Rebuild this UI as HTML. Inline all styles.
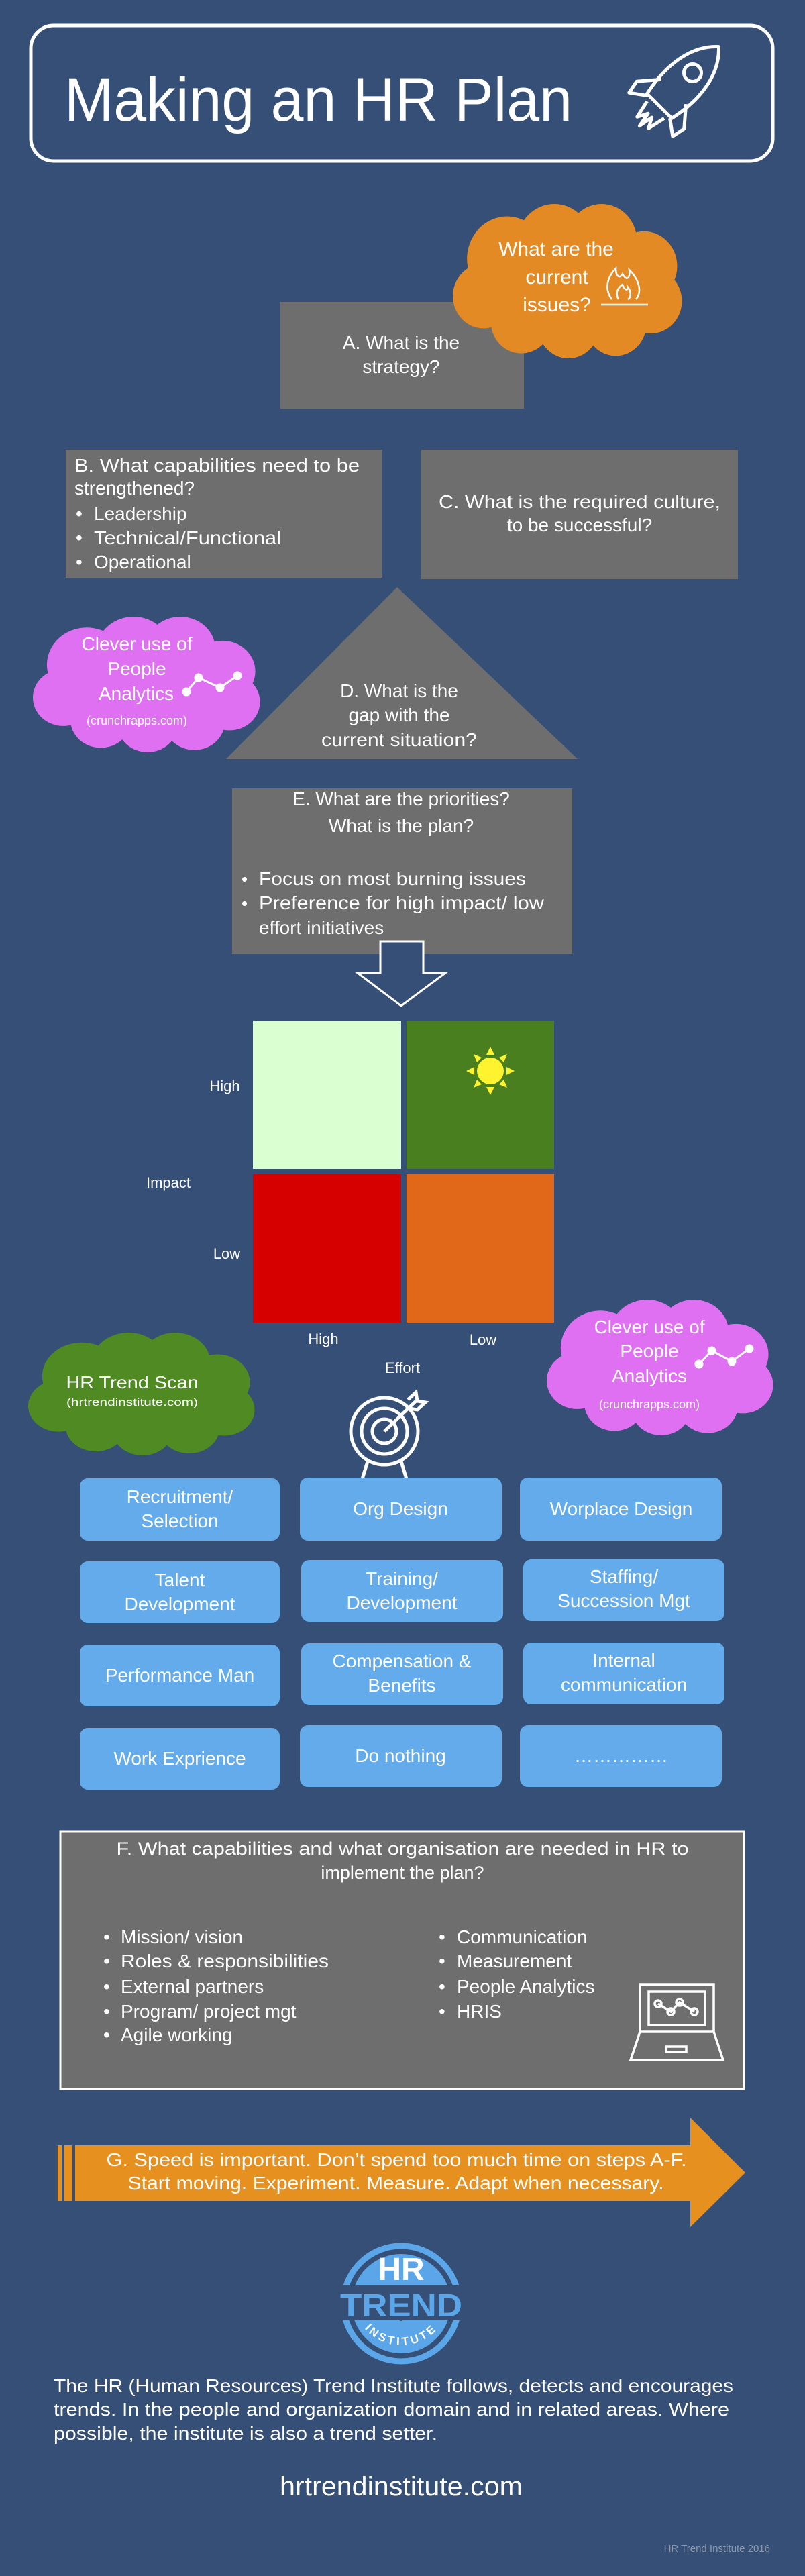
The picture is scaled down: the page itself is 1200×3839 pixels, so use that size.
<!DOCTYPE html>
<html><head><meta charset="utf-8"><style>
html,body{margin:0;padding:0;background:#354F76;}
svg{display:block;}
text{font-family:"Liberation Sans",sans-serif;fill:#fff;}
</style></head><body>
<svg width="1200" height="3839" viewBox="0 0 1200 3839" xmlns="http://www.w3.org/2000/svg">
<defs>
<symbol id="cloud" viewBox="0 0 100 62" preserveAspectRatio="none">
<g>
<circle cx="25" cy="22" r="17"/><circle cx="45" cy="16" r="16"/><circle cx="65" cy="15" r="15"/>
<circle cx="83" cy="25" r="14"/><circle cx="86" cy="39" r="13"/><circle cx="71" cy="48" r="13"/>
<circle cx="51" cy="49" r="13"/><circle cx="31" cy="47" r="13"/><circle cx="15" cy="37" r="13"/>
<ellipse cx="50" cy="32" rx="38" ry="20"/>
</g>
</symbol>
<path id="instArc" d="M 528 3440 A 72 72 0 0 0 668 3440"/>
</defs>
<rect width="1200" height="3839" fill="#354F76"/>

<!-- Title -->
<rect x="46" y="38" width="1106" height="202" rx="34" fill="none" stroke="#fff" stroke-width="5"/>
<text x="96" y="180" font-size="92" textLength="757" lengthAdjust="spacingAndGlyphs">Making an HR Plan</text>
<g transform="rotate(45 1012 129)" fill="none" stroke="#fff" stroke-width="5" stroke-linejoin="round">
<path d="M1012 45 C1045 75 1048 125 1038 170 L986 170 C976 125 979 75 1012 45 Z"/>
<circle cx="1012" cy="100" r="13"/>
<path d="M986 140 L962 168 L966 188 L988 172"/>
<path d="M1038 140 L1062 168 L1058 188 L1036 172"/>
<path d="M994 178 L1000 205 L1008 190 L1012 212 L1016 190 L1024 205 L1030 178"/>
</g>

<!-- Box A -->
<rect x="418" y="450" width="363" height="159" fill="#6E6E6E"/>
<!-- Orange cloud -->
<use href="#cloud" x="668" y="304" width="352" height="230" fill="#E38A24"/>
<text x="829" y="381" font-size="30" text-anchor="middle">What are the</text>
<text x="830" y="423" font-size="30" text-anchor="middle">current</text>
<text x="830" y="464" font-size="30" text-anchor="middle">issues?</text>
<g fill="none" stroke="#fff" stroke-width="2.5">
<path d="M912 446 C900 430 906 412 918 400 C918 412 924 416 928 408 C934 420 940 414 938 402 C952 416 958 434 948 446"/>
<path d="M922 446 C916 436 922 428 928 424 C930 432 936 434 936 428 C942 436 940 444 936 446"/>
<line x1="896" y1="454" x2="966" y2="454"/>
</g>
<text x="598" y="520" font-size="28" text-anchor="middle">A. What is the</text>
<text x="598" y="556" font-size="28" text-anchor="middle">strategy?</text>

<!-- Box B -->
<rect x="98" y="670" width="472" height="191" fill="#6E6E6E"/>
<text x="111" y="703" font-size="28" textLength="425" lengthAdjust="spacingAndGlyphs">B. What capabilities need to be</text>
<text x="111" y="737" font-size="28">strengthened?</text>
<text x="113" y="775" font-size="28">•</text><text x="140" y="775" font-size="28">Leadership</text>
<text x="113" y="811" font-size="28">•</text><text x="140" y="811" font-size="28" textLength="279" lengthAdjust="spacingAndGlyphs">Technical/Functional</text>
<text x="113" y="847" font-size="28">•</text><text x="140" y="847" font-size="28">Operational</text>

<!-- Box C -->
<rect x="628" y="670" width="472" height="193" fill="#6E6E6E"/>
<text x="864" y="757" font-size="28" text-anchor="middle" textLength="420" lengthAdjust="spacingAndGlyphs">C. What is the required culture,</text>
<text x="864" y="792" font-size="28" text-anchor="middle">to be successful?</text>

<!-- Triangle D -->
<polygon points="592,875 861,1131 337,1131" fill="#6E6E6E"/>
<text x="595" y="1039" font-size="28" text-anchor="middle">D. What is the</text>
<text x="595" y="1075" font-size="28" text-anchor="middle">gap with the</text>
<text x="595" y="1112" font-size="28" text-anchor="middle" textLength="232" lengthAdjust="spacingAndGlyphs">current situation?</text>

<!-- Pink cloud 1 -->
<use href="#cloud" x="42" y="919" width="349" height="202" fill="#E070F2"/>
<text x="204" y="969" font-size="28" text-anchor="middle">Clever use of</text>
<text x="204" y="1006" font-size="28" text-anchor="middle">People</text>
<text x="203" y="1043" font-size="28" text-anchor="middle">Analytics</text>
<text x="204" y="1080" font-size="18" text-anchor="middle">(crunchrapps.com)</text>
<g stroke="#fff" stroke-width="3" fill="#fff"><polyline points="278,1031 296,1010 328,1025 354,1007" fill="none"/>
<circle cx="278" cy="1031" r="5"/><circle cx="296" cy="1010" r="5"/><circle cx="328" cy="1025" r="5"/><circle cx="354" cy="1007" r="5"/></g>

<!-- Box E -->
<rect x="346" y="1175" width="507" height="246" fill="#6E6E6E"/>
<text x="598" y="1200" font-size="28" text-anchor="middle">E. What are the priorities?</text>
<text x="598" y="1240" font-size="28" text-anchor="middle">What is the plan?</text>
<text x="360" y="1319" font-size="26">•</text><text x="386" y="1319" font-size="28" textLength="398" lengthAdjust="spacingAndGlyphs">Focus on most burning issues</text>
<text x="360" y="1355" font-size="26">•</text><text x="386" y="1355" font-size="28" textLength="425" lengthAdjust="spacingAndGlyphs">Preference for high impact/ low</text>
<text x="386" y="1392" font-size="28">effort initiatives</text>

<!-- hollow arrow -->
<polygon points="567,1403 631,1403 631,1450 664,1450 598,1499 533,1450 567,1450" fill="#354F76" stroke="#fff" stroke-width="3"/>

<!-- matrix -->
<rect x="377" y="1521" width="221" height="221" fill="#DAFFD0"/>
<rect x="606" y="1521" width="220" height="221" fill="#4A7F20"/>
<rect x="377" y="1750" width="221" height="221" fill="#D60000"/>
<rect x="606" y="1750" width="220" height="221" fill="#E06818"/>
<g fill="#FFF22E">
<circle cx="731" cy="1596" r="20"/>
<polygon points="731,1560 725,1572 737,1572"/><polygon points="731,1632 725,1620 737,1620"/>
<polygon points="695,1596 707,1590 707,1602"/><polygon points="767,1596 755,1590 755,1602"/>
<polygon points="706,1571 718,1576 711,1583"/><polygon points="756,1571 744,1576 751,1583"/>
<polygon points="706,1621 718,1616 711,1609"/><polygon points="756,1621 744,1616 751,1609"/>
</g>
<text x="335" y="1626" font-size="22" text-anchor="middle">High</text>
<text x="251" y="1770" font-size="22" text-anchor="middle">Impact</text>
<text x="338" y="1876" font-size="22" text-anchor="middle">Low</text>
<text x="482" y="2003" font-size="22" text-anchor="middle">High</text>
<text x="720" y="2004" font-size="22" text-anchor="middle">Low</text>
<text x="600" y="2046" font-size="22" text-anchor="middle">Effort</text>

<!-- green cloud -->
<use href="#cloud" x="35" y="1986" width="348" height="183" fill="#4F8A22"/>
<text x="197" y="2069" font-size="26" text-anchor="middle" textLength="197" lengthAdjust="spacingAndGlyphs">HR Trend Scan</text>
<text x="197" y="2095" font-size="16" text-anchor="middle" textLength="196" lengthAdjust="spacingAndGlyphs">(hrtrendinstitute.com)</text>

<!-- pink cloud 2 -->
<use href="#cloud" x="808" y="1937" width="348" height="202" fill="#E070F2"/>
<text x="968" y="1987" font-size="28" text-anchor="middle">Clever use of</text>
<text x="968" y="2023" font-size="28" text-anchor="middle">People</text>
<text x="968" y="2060" font-size="28" text-anchor="middle">Analytics</text>
<text x="968" y="2099" font-size="18" text-anchor="middle">(crunchrapps.com)</text>
<g stroke="#fff" stroke-width="3" fill="#fff"><polyline points="1042,2033 1061,2013 1091,2029 1117,2010" fill="none"/>
<circle cx="1042" cy="2033" r="5"/><circle cx="1061" cy="2013" r="5"/><circle cx="1091" cy="2029" r="5"/><circle cx="1117" cy="2010" r="5"/></g>

<!-- target -->
<g fill="none" stroke="#fff" stroke-width="5">
<circle cx="573" cy="2133" r="50"/><circle cx="573" cy="2133" r="34"/><circle cx="573" cy="2133" r="18"/>
<line x1="573" y1="2133" x2="620" y2="2088"/>
<path d="M608 2086 L620 2075 L622 2088 L634 2090 L622 2101 L610 2099"/>
<line x1="548" y1="2178" x2="540" y2="2204"/><line x1="598" y1="2178" x2="606" y2="2204"/>
</g>

<!-- buttons -->
<g fill="#63ABEB">
<rect x="119" y="2203" width="298" height="93" rx="12"/><rect x="447" y="2202" width="301" height="94" rx="12"/><rect x="775" y="2202" width="301" height="94" rx="12"/>
<rect x="119" y="2327" width="298" height="92" rx="12"/><rect x="449" y="2325" width="301" height="92" rx="12"/><rect x="780" y="2324" width="300" height="92" rx="12"/>
<rect x="119" y="2451" width="298" height="92" rx="12"/><rect x="449" y="2449" width="301" height="92" rx="12"/><rect x="780" y="2448" width="300" height="92" rx="12"/>
<rect x="119" y="2575" width="298" height="92" rx="12"/><rect x="447" y="2571" width="301" height="92" rx="12"/><rect x="775" y="2571" width="301" height="92" rx="12"/>
</g>
<g font-size="28" text-anchor="middle">
<text x="268" y="2240">Recruitment/</text><text x="268" y="2276">Selection</text>
<text x="597" y="2258">Org Design</text>
<text x="926" y="2258">Worplace Design</text>
<text x="268" y="2364">Talent</text><text x="268" y="2400">Development</text>
<text x="599" y="2362">Training/</text><text x="599" y="2398">Development</text>
<text x="930" y="2359">Staffing/</text><text x="930" y="2395">Succession Mgt</text>
<text x="268" y="2506">Performance Man</text>
<text x="599" y="2485">Compensation &amp;</text><text x="599" y="2521">Benefits</text>
<text x="930" y="2484">Internal</text><text x="930" y="2520">communication</text>
<text x="268" y="2630">Work Exprience</text>
<text x="597" y="2626">Do nothing</text>
<text x="926" y="2626">……………</text>
</g>

<!-- Box F -->
<rect x="90" y="2729" width="1019" height="384" fill="#6E6E6E" stroke="#fff" stroke-width="3"/>
<text x="600" y="2764" font-size="27" text-anchor="middle" textLength="853" lengthAdjust="spacingAndGlyphs">F. What capabilities and what organisation are needed in HR to</text>
<text x="600" y="2800" font-size="27" text-anchor="middle">implement the plan?</text>
<g font-size="28">
<text x="154" y="2896">•</text><text x="180" y="2896">Mission/ vision</text>
<text x="154" y="2932">•</text><text x="180" y="2932" textLength="310" lengthAdjust="spacingAndGlyphs">Roles &amp; responsibilities</text>
<text x="154" y="2970">•</text><text x="180" y="2970">External partners</text>
<text x="154" y="3007">•</text><text x="180" y="3007">Program/ project mgt</text>
<text x="154" y="3042">•</text><text x="180" y="3042">Agile working</text>
<text x="654" y="2896">•</text><text x="681" y="2896">Communication</text>
<text x="654" y="2932">•</text><text x="681" y="2932">Measurement</text>
<text x="654" y="2970">•</text><text x="681" y="2970">People Analytics</text>
<text x="654" y="3007">•</text><text x="681" y="3007">HRIS</text>
</g>
<g fill="none" stroke="#fff" stroke-width="3.5">
<rect x="954" y="2958" width="110" height="70"/>
<rect x="967" y="2968" width="84" height="50"/>
<path d="M954 3028 L940 3070 L1078 3070 L1064 3028"/>
<rect x="993" y="3050" width="30" height="8"/>
<polyline points="981,2986 1000,2998 1013,2984 1035,2998"/>
<circle cx="981" cy="2986" r="5"/><circle cx="1000" cy="2998" r="5"/><circle cx="1013" cy="2984" r="5"/><circle cx="1035" cy="2998" r="5"/>
</g>

<!-- Orange arrow G -->
<g fill="#E5901F">
<rect x="86" y="3197" width="6" height="83"/><rect x="96" y="3197" width="11" height="83"/>
<polygon points="112,3197 1029,3197 1029,3156 1111,3238 1029,3319 1029,3280 112,3280"/>
</g>
<text x="591" y="3228" font-size="28" text-anchor="middle" textLength="865" lengthAdjust="spacingAndGlyphs">G. Speed is important. Don’t spend too much time on steps A-F.</text>
<text x="590" y="3263" font-size="28" text-anchor="middle" textLength="799" lengthAdjust="spacingAndGlyphs">Start moving. Experiment. Measure. Adapt when necessary.</text>

<!-- Logo -->
<circle cx="598" cy="3433" r="86" fill="none" stroke="#5BA6E8" stroke-width="9"/>
<circle cx="598" cy="3433" r="74" fill="#5BA6E8"/>
<rect x="506" y="3406" width="186" height="52" fill="#354F76"/>
<circle cx="598" cy="3455" r="4" fill="#354F76"/>
<text x="598" y="3398" font-size="48" font-weight="bold" text-anchor="middle">HR</text>
<text x="598" y="3452" font-size="48" font-weight="bold" text-anchor="middle" style="fill:#5BA6E8" textLength="182" lengthAdjust="spacingAndGlyphs">TREND</text>
<text font-size="17" font-weight="bold" letter-spacing="4"><textPath href="#instArc" startOffset="50%" text-anchor="middle">INSTITUTE</textPath></text>

<!-- paragraph -->
<text x="80" y="3565" font-size="28" textLength="1013" lengthAdjust="spacingAndGlyphs">The HR (Human Resources) Trend Institute follows, detects and encourages</text>
<text x="80" y="3600" font-size="28" textLength="1007" lengthAdjust="spacingAndGlyphs">trends. In the people and organization domain and in related areas. Where</text>
<text x="80" y="3636" font-size="28" textLength="572" lengthAdjust="spacingAndGlyphs">possible, the institute is also a trend setter.</text>
<text x="598" y="3719" font-size="40" text-anchor="middle" textLength="362" lengthAdjust="spacingAndGlyphs">hrtrendinstitute.com</text>
<text x="1148" y="3803" font-size="15" text-anchor="end" style="fill:#8C98AE">HR Trend Institute 2016</text>
</svg>
</body></html>
